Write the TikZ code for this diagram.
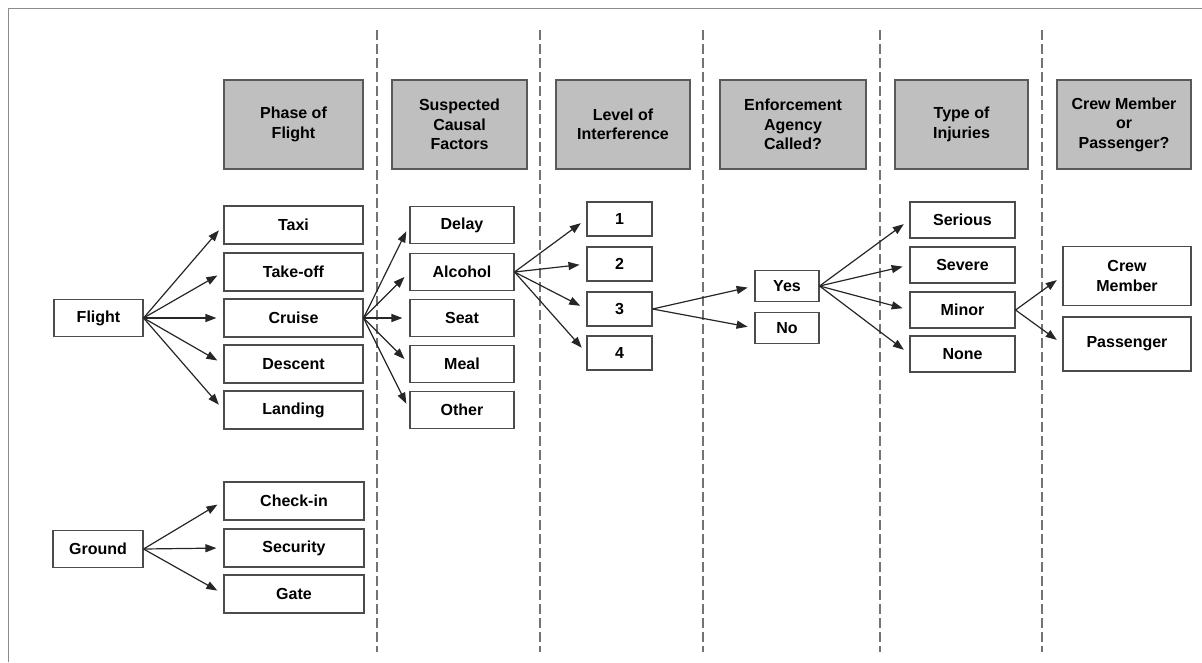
\documentclass[tikz,border=0pt]{standalone}
\usepackage{fontspec}
\setmainfont{Liberation Sans}
\usepackage{tikz}
\usetikzlibrary{arrows.meta}
\tikzstyle{hdr}=[draw=black!65,fill=black!25,line width=1.2pt,minimum height=89pt,align=center,inner sep=0pt]
\tikzstyle{opt}=[draw=black!70,fill=white,line width=1.1pt,align=center,inner sep=0pt]
\tikzstyle{arr}=[-{Triangle[length=11pt,width=8pt]},line width=1.2pt,draw=black!85,shorten >=7pt]
\tikzstyle{sep}=[draw=black!55,line width=1.6pt,dash pattern=on 10pt off 4pt]

\begin{document}
\begin{tikzpicture}[x=1pt,y=-1pt,font=\fontsize{16}{19.5}\selectfont\bfseries]
        \useasboundingbox (0,0) rectangle (1202,662);
        \draw[black!45,line width=1.5pt] (1202,8.5) -- (8.5,8.5) -- (8.5,662);
        \foreach \x in {377,540,703,880,1042}{
          \draw[sep] (\x,30) -- (\x,652);
        }
        % column headers
        \node[hdr,minimum width=139pt] (h1) at (293.5,124.5) {Phase of\\Flight};
        \node[hdr,minimum width=135pt] (h2) at (459.5,124.5) {Suspected\\Causal\\Factors};
        \node[hdr,minimum width=134pt] (h3) at (623,124.5) {Level of\\Interference};
        \node[hdr,minimum width=146pt] (h4) at (793,124.5) {Enforcement\\Agency\\Called?};
        \node[hdr,minimum width=133pt] (h5) at (961.5,124.5) {Type of\\Injuries};
        \node[hdr,minimum width=134pt] (h6) at (1124,124.5) {Crew Member\\or\\Passenger?};
        % roots
        \node[opt,minimum width=89pt,minimum height=37pt] (flight) at (98.5,318) {Flight};
        \node[opt,minimum width=90pt,minimum height=37pt] (ground) at (98,549) {Ground};
        % phase of flight
        \foreach \i/\t/\y in {1/Taxi/225,2/Take-off/272,3/Cruise/318,4/Descent/364,5/Landing/410}{
          \node[opt,minimum width=139pt,minimum height=38pt] (p\i) at (293.5,\y) {\t};
          \draw[arr] (flight.east) -- (p\i.west);
        }
        \foreach \i/\t/\y in {1/Check-in/501,2/Security/548,3/Gate/594}{
          \node[opt,minimum width=140pt,minimum height=38pt] (g\i) at (294,\y) {\t};
          \draw[arr] (ground.east) -- (g\i.west);
        }
        % causal factors
        \foreach \i/\t/\y in {1/Delay/225,2/Alcohol/272,3/Seat/318,4/Meal/364,5/Other/410}{
          \node[opt,minimum width=104pt,minimum height=37pt] (c\i) at (462,\y) {\t};
          \draw[arr] (p3.east) -- (c\i.west);
        }
        % level of interference
        \foreach \i/\y in {1/219,2/264,3/309,4/353}{
          \node[opt,minimum width=65pt,minimum height=34pt] (l\i) at (619.5,\y) {\i};
          \draw[arr] (c2.east) -- (l\i.west);
        }
        % enforcement agency
        \foreach \i/\t/\y in {1/Yes/286,2/No/328}{
          \node[opt,minimum width=64pt,minimum height=31pt] (e\i) at (787,\y) {\t};
          \draw[arr] (l3.east) -- (e\i.west);
        }
        % injuries
        \foreach \i/\t/\y in {1/Serious/220,2/Severe/265,3/Minor/310,4/None/354}{
          \node[opt,minimum width=105pt,minimum height=36pt] (i\i) at (962.5,\y) {\t};
          \draw[arr] (e1.east) -- (i\i.west);
        }
        % crew or passenger
        \node[opt,minimum width=128pt,minimum height=59pt] (m1) at (1127,276) {Crew\\Member};
        \node[opt,minimum width=128pt,minimum height=54pt] (m2) at (1127,344) {Passenger};
        \draw[arr] (i3.east) -- (m1.west);
        \draw[arr] (i3.east) -- (m2.west);
      \end{tikzpicture}
\end{document}
